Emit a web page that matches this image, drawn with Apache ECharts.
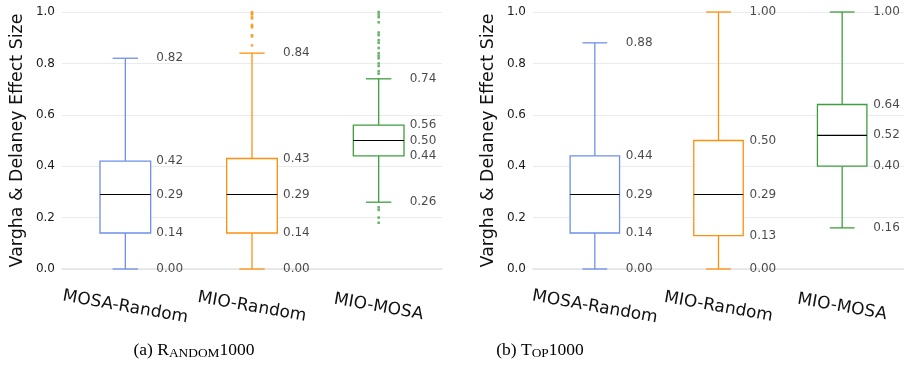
<!DOCTYPE html>
<html>
<head>
<meta charset="utf-8">
<script src="https://cdn.jsdelivr.net/npm/echarts@6/dist/echarts.min.js"></script>
<style>
  html, body { margin: 0; padding: 0; background: #fff; }
  #chart { width: 904px; height: 379px; }
</style>
</head>
<body>
<div id="chart"></div>
<script>
// ---- Data ----
const categories = ['MOSA-Random', 'MIO-Random', 'MIO-MOSA'];
const yTicks = [0.0, 0.2, 0.4, 0.6, 0.8, 1.0];

// box stats: [min(whisker), Q1, median, Q3, max(whisker)]
// (a) Random1000
const mosaRandomA = [0.00, 0.14, 0.29, 0.42, 0.82];
const mioRandomA  = [0.00, 0.14, 0.29, 0.43, 0.84];
const mioMosaA    = [0.26, 0.44, 0.50, 0.56, 0.74];
// (b) Top1000
const mosaRandomB = [0.00, 0.14, 0.29, 0.44, 0.88];
const mioRandomB  = [0.00, 0.13, 0.29, 0.50, 1.00];
const mioMosaB    = [0.16, 0.40, 0.52, 0.64, 1.00];

// outliers (a) Random1000
const mioRandomOutliersA = [0.87, 0.905, 0.91, 0.94, 0.945, 0.95, 0.975, 0.98, 0.99, 0.995, 1.0];
const mioMosaOutliersA   = [0.18, 0.20, 0.23, 0.24, 0.76, 0.77, 0.79, 0.80, 0.82, 0.83, 0.84, 0.86,
                            0.88, 0.89, 0.91, 0.92, 0.96, 0.98, 0.99, 1.0];

const captionA = ['(a) R', 'ANDOM', '1000'];
const captionB = ['(b) T', 'OP', '1000'];
const yAxisTitle = 'Vargha & Delaney Effect Size';

// ---- Styling ----
const boxColors = ['#6f8fea', '#ff900e', '#3e9e3e'];
const FONT = 'DejaVu Sans';

const chart = echarts.init(document.getElementById('chart'), null, { renderer: 'canvas' });

function boxData(list) {
  return list.map((s, i) => [i, s[0], s[1], s[2], s[3], s[4]]);
}
function labelData(list) {
  const out = [];
  list.forEach((s, i) => s.forEach(v => out.push([i, v])));
  return out;
}
function outlierData(catIndex, vals) {
  return vals.map(v => [catIndex, v]);
}

function renderBox(params, api) {
  const x = api.value(0);
  const pMin = api.coord([x, api.value(1)]);
  const pQ1 = api.coord([x, api.value(2)]);
  const pMed = api.coord([x, api.value(3)]);
  const pQ3 = api.coord([x, api.value(4)]);
  const pMax = api.coord([x, api.value(5)]);
  const band = api.size([1, 0])[0];
  const bw = band * 0.4;
  const cw = bw / 2;
  const cx = pMed[0];
  const color = boxColors[x];
  const ls = { stroke: color, lineWidth: 1.3, fill: null };
  return {
    type: 'group',
    children: [
      { type: 'line', shape: { x1: cx, y1: pQ1[1], x2: cx, y2: pMin[1] }, style: ls },
      { type: 'line', shape: { x1: cx, y1: pQ3[1], x2: cx, y2: pMax[1] }, style: ls },
      { type: 'line', shape: { x1: cx - cw / 2, y1: pMin[1], x2: cx + cw / 2, y2: pMin[1] }, style: ls },
      { type: 'line', shape: { x1: cx - cw / 2, y1: pMax[1], x2: cx + cw / 2, y2: pMax[1] }, style: ls },
      { type: 'rect', shape: { x: cx - bw / 2, y: pQ3[1], width: bw, height: pQ1[1] - pQ3[1] },
        style: { stroke: color, lineWidth: 1.3, fill: '#fff' } },
      { type: 'line', shape: { x1: cx - bw / 2, y1: pMed[1], x2: cx + bw / 2, y2: pMed[1] },
        style: { stroke: '#000', lineWidth: 1.1 } }
    ]
  };
}

function makeGrid(left) {
  return { left: left, top: 12, width: 380, height: 257, containLabel: false };
}
function makeXAxis(gi) {
  return {
    type: 'category', gridIndex: gi, data: categories, offset: 12,
    axisLine: { show: true, lineStyle: { color: '#e3e3e3', width: 1.5 } },
    axisTick: { show: false },
    splitLine: { show: false },
    axisLabel: {
      rotate: -10, align: 'center', verticalAlign: 'middle', margin: 26,
      fontFamily: FONT, fontSize: 17, color: '#111', interval: 0
    }
  };
}
function makeYAxis(gi) {
  return {
    type: 'value', gridIndex: gi, min: yTicks[0], max: yTicks[yTicks.length - 1], interval: 0.2,
    name: yAxisTitle, nameLocation: 'middle', nameGap: 36, nameRotate: 90,
    nameTextStyle: { fontFamily: FONT, fontSize: 17.4, color: '#111' },
    axisLine: { show: false }, axisTick: { show: false },
    splitLine: { show: true, lineStyle: { color: '#ebebeb', width: 1 } },
    axisLabel: { fontFamily: FONT, fontSize: 12, color: '#1a1a1a', margin: 7,
                 formatter: v => v.toFixed(1) }
  };
}
function boxSeries(gi, list) {
  return {
    type: 'custom', xAxisIndex: gi, yAxisIndex: gi,
    renderItem: renderBox, data: boxData(list),
    encode: { x: 0, y: [1, 2, 3, 4, 5] }, z: 3, silent: true
  };
}
function labelSeries(gi, list) {
  return {
    type: 'scatter', xAxisIndex: gi, yAxisIndex: gi, symbolSize: 0,
    data: labelData(list), silent: true, z: 4,
    label: { show: true, position: 'right', distance: 31, fontFamily: FONT, fontSize: 12,
             color: '#1a1a1a', formatter: p => p.value[1].toFixed(2) },
    labelLayout: { hideOverlap: false }
  };
}
function outlierSeries(gi, catIndex, vals) {
  return {
    type: 'scatter', xAxisIndex: gi, yAxisIndex: gi, symbol: 'rect', symbolSize: [2.5, 2.5],
    itemStyle: { color: boxColors[catIndex] }, data: outlierData(catIndex, vals), silent: true, z: 5
  };
}

const richCap = {
  a: { fontFamily: 'Liberation Serif', fontSize: 17.5, color: '#111', verticalAlign: 'bottom', lineHeight: 21 },
  b: { fontFamily: 'Liberation Serif', fontSize: 13.4, color: '#111', verticalAlign: 'bottom', lineHeight: 21 }
};
function caption(x, parts) {
  return {
    type: 'text', x: x, y: 349,
    style: {
      text: '{a|' + parts[0] + '}{b|' + parts[1] + '}{a|' + parts[2] + '}',
      rich: richCap, align: 'center', verticalAlign: 'middle'
    }
  };
}

const lists = [[mosaRandomA, mioRandomA, mioMosaA], [mosaRandomB, mioRandomB, mioMosaB]];

chart.setOption({
  animation: false,
  backgroundColor: '#fff',
  grid: [makeGrid(62), makeGrid(533)],
  xAxis: [makeXAxis(0), makeXAxis(1)],
  yAxis: [makeYAxis(0), makeYAxis(1)],
  series: [
    boxSeries(0, lists[0]), labelSeries(0, lists[0]),
    outlierSeries(0, 1, mioRandomOutliersA), outlierSeries(0, 2, mioMosaOutliersA),
    boxSeries(1, lists[1]), labelSeries(1, lists[1])
  ],
  graphic: [caption(194, captionA), caption(540, captionB)]
});
</script>
</body>
</html>
